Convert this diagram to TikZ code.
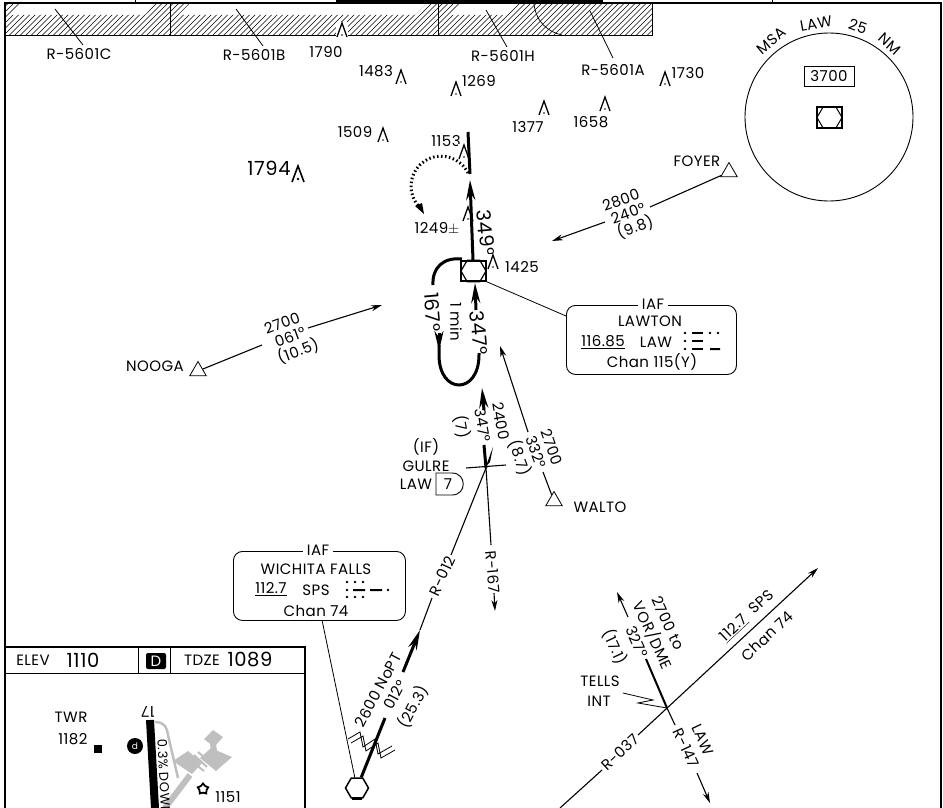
\documentclass[tikz,border=0pt]{standalone}
\usepackage{fontspec}
\setmainfont{Poppins}[LetterSpace=3]
\usetikzlibrary{arrows.meta,shapes.geometric}
\colorlet{aptgray}{black!25}
\tikzset{
  lbl/.style={inner sep=0pt,font=\fontsize{15}{15}\selectfont},
  lblbig/.style={inner sep=0pt,font=\fontsize{19.5}{20}\selectfont},
  thl/.style={line width=0.8pt},
  trk/.style={line width=3pt},
  thn/.style={line width=1.1pt},
  tiparrow/.style={-{Stealth[length=11pt,width=6pt]}},
  bigarrow/.style={-{Stealth[length=20pt,width=9pt]}},
  fixtri/.style={draw,regular polygon,regular polygon sides=3,minimum size=19pt,inner sep=0pt,line width=0.8pt,fill=white},
  hexa/.style={draw,regular polygon,regular polygon sides=6,inner sep=0pt,fill=white},
  infobox/.style={draw,rounded corners=9pt,line width=0.9pt},
  obst/.pic={\fill[white] (-6,6) rectangle (6,-9);
    \draw[line width=1.3pt] (-5,6) -- (0,-8) -- (5,6);
    \fill (0,4) circle (0.9);},
  obstbig/.pic={\draw[line width=1.6pt] (-6,7) -- (0,-9) -- (6,7);
    \fill (0,4) circle (1.4);}
}
\begin{document}
\begin{tikzpicture}[x=1pt,y=-1pt]
  \useasboundingbox (0,0) rectangle (943,808);
  \clip (0,0) rectangle (943,808);
  \fill[white] (0,0) rectangle (943,808);

  \begin{scope}
    \clip (6,35) -- (6,4) -- (20,4) -- (12,15) -- (145,15) -- (155,4) -- (189,4) -- (178,15) -- (415,15) -- (426,4)
      -- (459,4) -- (448,15) -- (505,15) -- (516,4) -- (652,4) -- (652,35) -- cycle;
    \foreach \hx in {-30,-24.5,...,660}
      \draw[line width=0.5pt] (\hx,36) -- (\hx+33,3);
  \end{scope}
  \draw[line width=0.7pt] (6,35) -- (652,35) -- (652,4);
  \draw[line width=0.7pt] (170,4) -- (170,35) (438,4) -- (438,35);
  \draw[line width=0.7pt] (534,4) .. controls (536,22) and (548,32) .. (562,35);
  \draw[line width=1.6pt] (5,808) -- (5,3) -- (941,3) -- (941,808);
  \draw[line width=3pt] (336,2) -- (603,2);
  \draw[line width=0.8pt] (135,0) -- (135,3) (772,0) -- (772,3);

  \begin{scope}[every node/.style=lbl]
    \draw
      (79,54) node (r5601c){R-5601C}
      (254,55) node (r5601b){R-5601B}
      (503,56) node (r5601h){R-5601H}
      (613,70) node (r5601a){R-5601A}
      (326,52) node (e1790){1790}
      (376,71) node (e1483){1483}
      (479,81) node (e1269){1269}
      (528,127) node (e1377){1377}
      (591,122) node (e1658){1658}
      (688,73) node (e1730){1730}
      (355,132) node (e1509){1509}
      (446,141) node (e1153){1153}
      (437,229) node (e1249){1249$\pm$}
      (522,267) node (e1425){1425}
      (697,161) node (foyer){FOYER}
      (155,366) node (nooga){NOOGA}
      (600,507) node (walto){WALTO}
      (621,200) node[rotate=20] (foyeralt){2800}
      (628,213) node[rotate=20] (foyercrs){240°}
      (635,227) node[rotate=20] (foyerdst){(9.8)}
      (282,323) node[rotate=20] (noogaalt){2700}
      (290,337) node[rotate=20] (noogacrs){061°}
      (298,351) node[rotate=20] (noogadst){(10.5)}
      (552,447) node[rotate=-70] (waltoalt){2700}
      (536,452) node[rotate=-70] (waltocrs){332°}
      (520,458) node[rotate=-70] (waltodst){(8.7)}
      (501,421) node[rotate=-80] (ifalt){2400}
      (483,425) node[rotate=-80] (ifcrs){347°}
      (462,427) node[rotate=-80] (ifdst){(7)}
      (456,322) node[rotate=-90] (holdmin){1 min}
      (426,447) node (ifmark){(IF)}
      (426,466) node (gulre){GULRE}
      (416,484) node (gulrelaw){LAW}
      (442,576) node[rotate=65] (r012){R-012}
      (493,572) node[rotate=-85] (r167){R-167}
      (378,690) node[rotate=62] (nopt){2600 NoPT}
      (395,695) node[rotate=62] (noptcrs){012°}
      (413,707) node[rotate=62] (noptdst){(25.3)}
      (620,752) node[rotate=43] (r037){R-037}
      (747,616) node[rotate=43] (sps){\underline{112.7}\ \ SPS}
      (767,636) node[rotate=43] (spschan){Chan 74}
      (668,623) node[rotate=-65] (tellsalt){2700 to}
      (653,635) node[rotate=-65] (tellsvor){VOR/DME}
      (637,642) node[rotate=-65] (tellscrs){327°}
      (615,647) node[rotate=-65] (tellsdst){(17.1)}
      (703,740) node[rotate=-65] (lawtxt){LAW}
      (686,748) node[rotate=-65] (r147){R-147}
      (600,681) node (tells){TELLS}
      (599,701) node (tellsint){INT}
      (771,41) node[rotate=40] (msa){MSA}
      (816,24) node[rotate=10] (msalaw){LAW}
      (858,26) node[rotate=-20] (msa25){25}
      (890,44) node[rotate=-42] (msanm){NM}
      (71,717) node (twr){TWR}
      (73,739) node (twralt){1182}
      (228,797) node (e1151){1151}
      (33,660) node (elev){ELEV}
      (202,660) node (tdze){TDZE};
  \end{scope}

  \begin{scope}[every node/.style=lblbig]
    \draw
      (269,168) node (e1794){1794}
      (486,233) node[rotate=-85] (trk349){349°}
      (433,312) node[rotate=-85] (trk167){167°}
      (479,333) node[rotate=-85] (trk347){347°}
      (83,660) node (elevval){1110}
      (250,660) node (tdzeval){1089};
  \end{scope}

  \foreach \ox/\oy in {342/31,401/78,456/90,544/109,605/105,665/80,383/136,464/153,468/215,493/263}
    \pic at (\ox,\oy) {obst};
  \pic at (298,175) {obstbig};

  \path
    (55,9) coordinate (r5601ctip) (83,45) coordinate (r5601cend)
    (236,9) coordinate (r5601btip) (263,46) coordinate (r5601bend)
    (486,10) coordinate (r5601htip) (507,47) coordinate (r5601hend)
    (590,11) coordinate (r5601atip) (613,58) coordinate (r5601aend)
    (650,207) coordinate (foyerbrk) (605,222) coordinate (foyerres) (552,241) coordinate (foyertip)
    (262,345) coordinate (noogabrk) (308,328) coordinate (noogares) (382,305) coordinate (noogatip)
    (543,472) coordinate (waltobrk) (528,432) coordinate (waltores) (500,346) coordinate (waltotip)
    (486,468) coordinate (gulrefix)
    (491,545) coordinate (r167a) (494,593) coordinate (r167b) (495,611) coordinate (r167tip)
    (451,555) coordinate (r012a) (432,598) coordinate (r012b) (420,630) coordinate (r012tip)
    (403,672) coordinate (noptres) (385,718) coordinate (noptbrk)
    (667,708) coordinate (tellsfix) (646,659) coordinate (tellsbrk) (628,617) coordinate (tellsres) (617,592) coordinate (tellstip)
    (560,808) coordinate (r037start) (602,770) coordinate (r037a) (638,735) coordinate (r037b) (818,568) coordinate (r037tip)
    (675,725) coordinate (r147a) (697,773) coordinate (r147b) (710,803) coordinate (r147tip);

  \draw
    (729,172) node[fixtri] (foyertri){}
    (198,371) node[fixtri] (noogatri){}
    (554,501) node[fixtri] (waltotri){};
  \draw[thn] (foyertri) -- (foyerbrk);
  \draw[thn,tiparrow] (foyerres) -- (foyertip);
  \draw[thn] (noogatri) -- (noogabrk);
  \draw[thn,tiparrow] (noogares) -- (noogatip);
  \draw[thn] (waltotri) -- (waltobrk);
  \draw[thn,tiparrow] (waltores) -- (waltotip);

  \draw (473.5,271) node[hexa,line width=1.2pt,minimum size=25pt] (lawhex){};
  \draw (473.5,271) node[draw,line width=1.6pt,minimum width=25pt,minimum height=20pt,inner sep=0pt] (lawbox){};
  \draw[trk] (468,132) -- (470,174);
  \draw[trk,bigarrow] (473,260) -- (470,180);
  \draw[trk,bigarrow] (476,310) -- (475,283);
  \draw[line width=3pt,dash pattern=on 1.5pt off 2.5pt] (468,173) arc (-26:-222:30);
  \fill (424,214) -- (415,206) -- (422,203) -- cycle;
  \draw[line width=3pt] (433,285) .. controls (432,268) and (443,257) .. (462,259);
  \draw[line width=3pt] (439,345) -- (439,355) .. controls (439,395) and (479,395) .. (479,355) -- (479,353);
  \draw[trk,bigarrow] (439,333) -- (439,351);
  \draw[trk,bigarrow] (484,410) -- (482,388);
  \draw[trk] (484,445) -- (gulrefix);
  \fill (486,466) -- (493,447) -- (490,462) -- cycle;
  \draw[thn] (466,468) -- (506,465);

  \draw[thn] (gulrefix) -- (r167a);
  \draw[thn,tiparrow] (r167b) -- (r167tip);
  \draw[thn] (gulrefix) -- (r012a);
  \draw[thn] (r012b) -- (r012tip);
  \draw[trk,bigarrow] (noptres) -- (r012tip);

  \draw (357,788) node[hexa,line width=1.5pt,minimum size=23pt] (spshex){};
  \draw[trk] (noptbrk) -- (spshex);
  \fill (352,797) rectangle (362,800);
  \draw[thl] (348,739) -- (360,732) -- (363,747) -- (375,739) -- (378,754) -- (392,746)
    (351,743) -- (363,736) -- (366,751) -- (378,743) -- (381,758) -- (395,750);

  \draw[line width=0.9pt] (452,473) -- (436,473) -- (436,495) -- (452,495) .. controls (467,495) and (467,473) .. (452,473);
  \draw (448,484) node[lbl] (gulreseven){7};

  \draw (566,305) node[infobox,minimum width=170pt,minimum height=69pt,anchor=north west] (lawinfo){};
  \draw (653,304) node[lbl,fill=white,inner xsep=4pt] (lawiaf){IAF};
  \begin{scope}[every node/.style=lbl]
    \draw
      (650,321) node (lawname){LAWTON}
      (603,342) node (lawfreq){\underline{116.85}}
      (656,342) node (lawid){LAW}
      (652,362) node (lawchan){Chan 115(Y)};
  \end{scope}
  \foreach \my in {333,341,349} \fill (685,\my) circle (1.3);
  \foreach \my in {333,341,349} \fill (692,\my-1) rectangle (703,\my+1);
  \fill (710,333) circle (1.3) (718,333) circle (1.3) (710,348) rectangle (720,350);
  \coordinate (lawleader) at (566,316);
  \draw[thl] (lawleader) -- (lawbox.south east);

  \draw (233,551) node[infobox,minimum width=172pt,minimum height=69pt,anchor=north west] (spsinfo){};
  \draw (318,550) node[lbl,fill=white,inner xsep=4pt] (spsiaf){IAF};
  \begin{scope}[every node/.style=lbl]
    \draw
      (316,569) node (spsname){WICHITA FALLS}
      (271,589) node (spsfreq){\underline{112.7}}
      (316,590) node (spsid){SPS}
      (316,611) node (spschn){Chan 74};
  \end{scope}
  \foreach \mx in {347,355,363} \fill (\mx,582) circle (1.3) (\mx,597) circle (1.3);
  \fill (347,590) circle (1.3) (388,590) circle (1.3) (353,589) rectangle (365,591) (370,589) rectangle (382,591);
  \coordinate (spsleader) at (322,620);
  \draw[thl] (spsleader) -- (spshex);

  \draw[thl] (r5601cend) -- (r5601ctip);
  \draw[thl] (r5601bend) -- (r5601btip);
  \draw[thl] (r5601hend) -- (r5601htip);
  \draw[thl] (r5601aend) -- (r5601atip);

  \draw[line width=0.9pt] (829,117) circle[radius=84pt];
  \draw (829,76) node[draw,thl,minimum width=50pt,minimum height=20pt,inner sep=0pt,lbl] (msaalt){3700};
  \draw (829.5,117.5) node[hexa,line width=1pt,minimum size=25pt] (msahex){};
  \draw (829.5,117.5) node[draw,line width=1.8pt,minimum width=25pt,minimum height=21pt,inner sep=0pt] (msabox){};

  \draw[thn] (r037start) -- (r037a);
  \draw[thn,tiparrow] (r037b) -- (r037tip);
  \draw[line width=2pt] (tellsfix) -- (tellsbrk);
  \draw[thn,tiparrow] (tellsres) -- (tellstip);
  \draw[thn] (tellsfix) -- (r147a);
  \draw[thn,tiparrow] (r147b) -- (r147tip);
  \draw[thl] (623,693) -- (653,700) -- (638,703) -- (tellsfix);

  \draw[line width=2pt] (5,647) -- (305,647) -- (305,808);
  \draw[thl] (5,673) -- (305,673);
  \draw[line width=0.9pt] (138,647) -- (138,673) (170,647) -- (170,673);
  \draw (156,661) node[fill=black,text=white,rounded corners=2pt,inner sep=0pt,minimum width=20pt,minimum height=16pt,lbl] (ddot){D};

  \fill[aptgray] (204,739) -- (213,730) -- (223,737) -- (214,747) -- cycle;
  \fill[aptgray] (173,761) -- (188,751) -- (202,763) -- (192,774) -- cycle;
  \fill[aptgray] (200,758) -- (211,748) -- (232,757) -- (216,771) -- cycle;
  \draw[aptgray,line width=6pt] (213,744) -- (214,751);
  \draw[aptgray,line width=2pt] (194,755) -- (207,767) (198,752) -- (210,762) (190,760) -- (204,771);
  \draw[aptgray,line width=6pt] (165,808) -- (190,775);
  \draw[aptgray,line width=2.5pt] (155,722) .. controls (165,722) and (167,728) .. (168,735) -- (178,778);
  \draw[line width=8pt] (150,720) -- (155,808);
  \draw (148,712) node[lbl,rotate=180] (rwy17){17};
  \draw (135,746) node[circle,fill=black,text=white,inner sep=0pt,minimum size=16pt,font=\fontsize{9}{9}\selectfont] (dcircle){d};
  \draw (162,739) node[rotate=-87,anchor=west,font=\fontsize{13}{13}\selectfont,inner sep=0pt] (slope){0.3\% DOWN};
  \fill (94,745) rectangle (102,753);
  \draw (203,789) node[draw,star,star points=5,line width=1.8pt,minimum size=11pt,inner sep=0pt] (arp){};
\end{tikzpicture}
\end{document}
